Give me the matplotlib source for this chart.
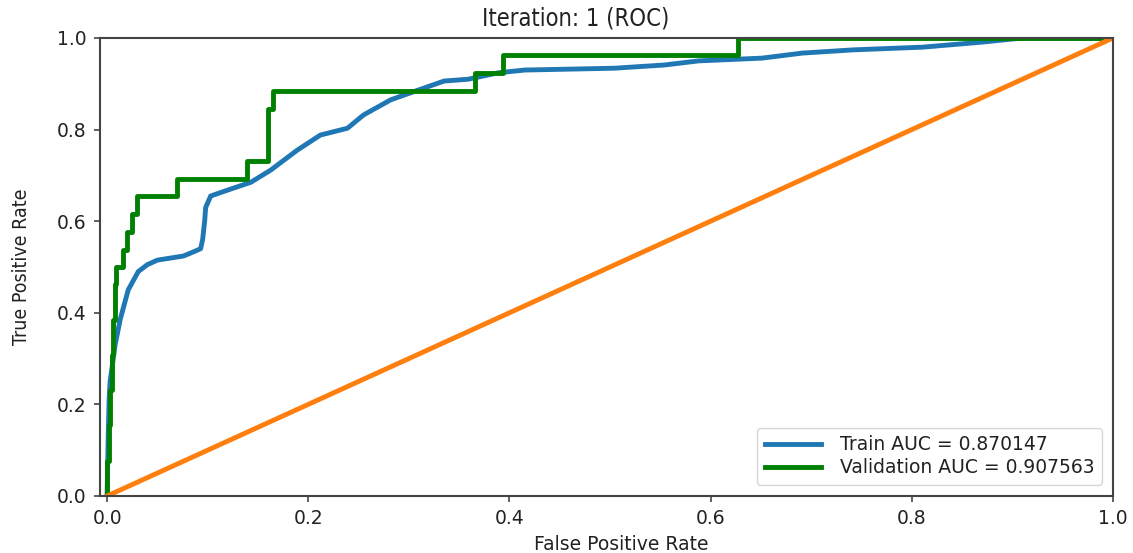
import matplotlib
matplotlib.use('Agg')
import matplotlib.pyplot as plt

# ROC data
train_fpr = [0.0, 0.001, 0.002, 0.003, 0.008, 0.013, 0.021, 0.031, 0.04, 0.05, 0.076, 0.088,
             0.093, 0.095, 0.097, 0.098, 0.103, 0.12, 0.143, 0.163, 0.172, 0.189, 0.212,
             0.239, 0.255, 0.282, 0.309, 0.335, 0.359, 0.389, 0.415, 0.504, 0.554, 0.588,
             0.651, 0.691, 0.741, 0.811, 0.870, 0.910, 1.0]
train_tpr = [0.0, 0.12, 0.21, 0.25, 0.33, 0.385, 0.45, 0.49, 0.505, 0.515, 0.524, 0.535,
             0.54, 0.56, 0.60, 0.63, 0.655, 0.668, 0.685, 0.712, 0.727, 0.755, 0.788,
             0.803, 0.832, 0.865, 0.886, 0.906, 0.910, 0.924, 0.930, 0.934, 0.941, 0.950,
             0.956, 0.967, 0.974, 0.980, 0.991, 1.0, 1.0]

val_fpr = [0.0, 0.0, 0.002, 0.002, 0.003, 0.003, 0.005, 0.005, 0.006, 0.006, 0.008, 0.008,
           0.009, 0.009, 0.016, 0.016, 0.02, 0.02, 0.025, 0.025, 0.03, 0.03, 0.07, 0.07,
           0.139, 0.139, 0.16, 0.16, 0.165, 0.165, 0.366, 0.366, 0.394, 0.394, 0.627, 0.627,
           1.0]
val_tpr = [0.0, 0.077, 0.077, 0.154, 0.154, 0.231, 0.231, 0.308, 0.308, 0.385, 0.385, 0.462,
           0.462, 0.5, 0.5, 0.538, 0.538, 0.577, 0.577, 0.615, 0.615, 0.654, 0.654, 0.692,
           0.692, 0.731, 0.731, 0.846, 0.846, 0.885, 0.885, 0.923, 0.923, 0.962, 0.962, 1.0,
           1.0]

train_auc = 0.870147
val_auc = 0.907563
iteration = 1

narrow = dict(family='DejaVu Sans', fontstretch='condensed')

fig = plt.figure(figsize=(11.33, 5.53), dpi=100)
ax = fig.add_axes([0.0883, 0.1031, 0.894, 0.8282])

ax.plot(train_fpr, train_tpr, color='#1f77b4', lw=3.5, label='Train AUC = %f' % train_auc)
ax.plot(val_fpr, val_tpr, color='green', lw=3.5, label='Validation AUC = %f' % val_auc)
ax.plot([0, 1], [0, 1], color='#ff7f0e', lw=3.5)

ax.set_xlim(-0.007, 1.0)
ax.set_ylim(0.0, 1.0)
for s in ax.spines.values():
    s.set_color('#444444')
    s.set_linewidth(1.5)
ax.tick_params(labelsize=13.5, length=4.5, width=1.2, pad=5, color='#444444',
               labelcolor='#222222')
ax.set_xlabel('False Positive Rate', fontsize=13.5, color='#222222')
ax.xaxis.set_label_coords(0.515, -0.085)
ax.set_ylabel('True Positive Rate', fontsize=14, color='#222222', **narrow)
ax.yaxis.set_label_coords(-0.068, 0.5)
ax.set_title('Iteration: %d (ROC)' % iteration, fontsize=17, pad=9, color='#222222',
             x=0.47, **narrow)
leg = ax.legend(loc='lower right', fontsize=13.5, handlelength=3.0, handletextpad=1.0,
                labelspacing=0.2, borderaxespad=0.6)
for t in leg.get_texts():
    t.set_color('#222222')

fig.savefig('out.png', dpi=100)
